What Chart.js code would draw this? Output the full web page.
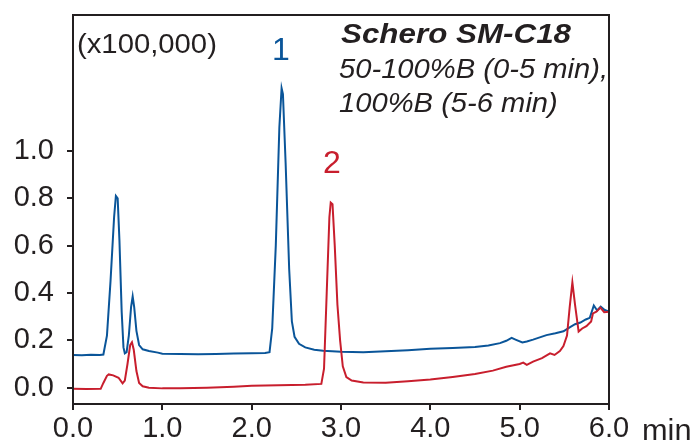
<!DOCTYPE html>
<html>
<head>
<meta charset="utf-8">
<title>Schero SM-C18</title>
<script src="https://cdn.jsdelivr.net/npm/chart.js"></script>
<style>
  body { margin: 0; background: #fff; }
  #wrap { width: 696px; height: 444px; }
</style>
</head>
<body>
<div id="wrap"><canvas id="chromChart"></canvas></div>
<script>
    // chromatogram traces (time in min, signal x100,000)
    const blueTime = [0.00, 0.10, 0.20, 0.30, 0.34, 0.38, 0.42, 0.46, 0.48, 0.50, 0.52, 0.545, 0.565, 0.58, 0.60,
        0.625, 0.65, 0.668, 0.685, 0.71, 0.74, 0.78, 0.85, 0.95, 1.0, 1.2, 1.4, 1.6, 1.8, 2.0, 2.15, 2.20, 2.23,
        2.27, 2.31, 2.335, 2.35, 2.38, 2.42, 2.45, 2.48, 2.53, 2.6, 2.7, 2.8, 2.9, 3.0, 3.25, 3.5, 3.75, 4.0,
        4.25, 4.5, 4.65, 4.78, 4.85, 4.91, 4.96, 5.03, 5.08, 5.15, 5.3, 5.4, 5.49, 5.56, 5.62, 5.68, 5.74,
        5.785, 5.83, 5.867, 5.907, 5.952, 6.0];
    const blueSignal = [0.138, 0.137, 0.139, 0.138, 0.140, 0.22, 0.45, 0.72, 0.81, 0.80, 0.62, 0.32, 0.17, 0.145, 0.15,
        0.22, 0.34, 0.385, 0.34, 0.24, 0.18, 0.162, 0.155, 0.148, 0.143, 0.142, 0.141, 0.142, 0.144, 0.145, 0.146, 0.15, 0.25,
        0.60, 1.10, 1.265, 1.24, 0.95, 0.50, 0.28, 0.215, 0.185, 0.17, 0.16, 0.156, 0.154, 0.152, 0.150, 0.154, 0.158, 0.164,
        0.167, 0.172, 0.178, 0.188, 0.198, 0.21, 0.202, 0.191, 0.195, 0.203, 0.222, 0.23, 0.238, 0.255, 0.268, 0.275, 0.288,
        0.295, 0.347, 0.326, 0.342, 0.328, 0.321];

    const redTime = [0.00, 0.15, 0.31, 0.34, 0.38, 0.40, 0.45, 0.51, 0.555, 0.58, 0.61, 0.64, 0.66, 0.68, 0.71, 0.74,
        0.78, 0.85, 1.0, 1.2, 1.5, 1.8, 2.0, 2.3, 2.6, 2.78, 2.81, 2.84, 2.87, 2.885, 2.905, 2.93, 2.96, 2.99, 3.02,
        3.06, 3.12, 3.25, 3.5, 3.75, 4.0, 4.25, 4.5, 4.7, 4.85, 5.0, 5.04, 5.08, 5.15, 5.25, 5.34, 5.39, 5.45, 5.49,
        5.53, 5.56, 5.59, 5.62, 5.66, 5.7, 5.747, 5.80, 5.821, 5.859, 5.904, 5.946, 6.0];
    const redSignal = [-0.005, -0.006, -0.005, 0.02, 0.05, 0.056, 0.052, 0.042, 0.018, 0.03, 0.10, 0.18, 0.192, 0.16, 0.07, 0.02,
        0.006, 0.0, -0.003, -0.003, 0.0, 0.004, 0.008, 0.01, 0.012, 0.016, 0.08, 0.40, 0.72, 0.782, 0.775, 0.60, 0.35, 0.20, 0.09,
        0.045, 0.03, 0.022, 0.021, 0.027, 0.034, 0.045, 0.058, 0.072, 0.088, 0.1, 0.106, 0.096, 0.11, 0.125, 0.145, 0.138, 0.155, 0.176,
        0.22, 0.34, 0.445, 0.35, 0.237, 0.25, 0.26, 0.28, 0.314, 0.321, 0.338, 0.319, 0.321];

    const yTicks = [0.0, 0.2, 0.4, 0.6, 0.8, 1.0];
    const xTicks = [0, 1, 2, 3, 4, 5, 6];

    const FONT = "'Liberation Sans', Arial, sans-serif";
    const INK = '#231f20';
    const BLUE = '#0a5599';
    const RED = '#c81e2d';

    function toPoints(xs, ys) {
        return xs.map((x, i) => ({ x: x, y: ys[i] }));
    }

    // text drawn slightly wider, like the figure's type
    function wideText(c, str, x, y, sx) {
        c.save();
        c.translate(x, y);
        c.scale(sx, 1);
        c.fillText(str, 0, 0);
        c.restore();
    }

    // frame, unit label, method text and peak numbers
    const decorations = {
        id: 'decorations',
        afterDraw(chart) {
            const c = chart.ctx;
            const a = chart.chartArea;
            const xs = chart.scales.x;
            c.save();
            c.strokeStyle = INK;
            c.lineWidth = 2;
            c.strokeRect(a.left, a.top, a.right - a.left, a.bottom - a.top);

            c.textBaseline = 'alphabetic';
            c.fillStyle = INK;
            c.textAlign = 'left';
            c.font = '28px ' + FONT;
            wideText(c, '(x100,000)', 77, 53, 1.045);

            c.font = 'italic bold 28px ' + FONT;
            wideText(c, 'Schero SM-C18', 341, 43, 1.12);
            c.font = 'italic 27px ' + FONT;
            wideText(c, '50-100%B (0-5 min),', 339, 78, 1.08);
            wideText(c, '100%B (5-6 min)', 339, 112, 1.08);

            c.textAlign = 'center';
            c.font = '32px ' + FONT;
            c.fillStyle = BLUE;
            c.fillText('1', 281, 60);
            c.fillStyle = RED;
            c.fillText('2', 332, 173);

            // unit after the last x tick
            c.fillStyle = INK;
            c.textAlign = 'left';
            c.font = '29px ' + FONT;
            wideText(c, 'min', xs.getPixelForValue(6) + 33, 440, 1.06);
            c.restore();
        }
    };

    const ctx = document.getElementById('chromChart').getContext('2d');
    const chromChart = new Chart(ctx, {
        type: 'line',
        data: {
            datasets: [{
                label: 'red',
                data: toPoints(redTime, redSignal),
                borderColor: RED,
                borderWidth: 2,
                pointRadius: 0,
                tension: 0,
                fill: false
            }, {
                label: 'blue',
                data: toPoints(blueTime, blueSignal),
                borderColor: BLUE,
                borderWidth: 2,
                pointRadius: 0,
                tension: 0,
                fill: false
            }]
        },
        options: {
            responsive: true,
            maintainAspectRatio: false,
            animation: false,
            layout: { padding: { left: 0, right: 87, top: 15, bottom: 0 } },
            plugins: {
                legend: { display: false },
                tooltip: { enabled: false }
            },
            scales: {
                x: {
                    type: 'linear',
                    min: 0,
                    max: 6,
                    afterBuildTicks: s => { s.ticks = xTicks.map(v => ({ value: v })); },
                    afterFit: s => { s.height = 40; s.paddingLeft = 0; s.paddingRight = 0; },
                    grid: { drawOnChartArea: false, tickLength: 6, color: INK, lineWidth: 2 },
                    border: { color: INK, width: 2 },
                    ticks: {
                        color: INK,
                        padding: 2,
                        maxRotation: 0,
                        font: { family: FONT, size: 29 },
                        callback: v => v.toFixed(1)
                    }
                },
                y: {
                    type: 'linear',
                    min: -0.069,
                    max: 1.574,
                    afterBuildTicks: s => { s.ticks = yTicks.map(v => ({ value: v })); },
                    afterFit: s => { s.width = 73; s.paddingTop = 0; s.paddingBottom = 0; },
                    grid: { drawOnChartArea: false, tickLength: 6, color: INK, lineWidth: 2 },
                    border: { color: INK, width: 2 },
                    ticks: {
                        color: INK,
                        padding: 13,
                        font: { family: FONT, size: 29 },
                        callback: v => v.toFixed(1)
                    }
                }
            }
        },
        plugins: [decorations]
    });
</script>
</body>
</html>
